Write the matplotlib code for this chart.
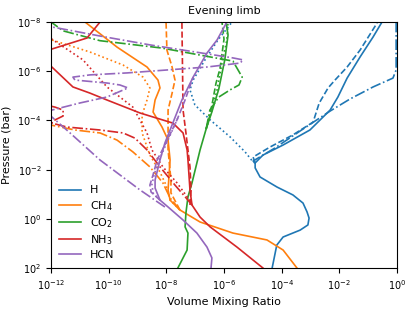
import numpy as np
import matplotlib
matplotlib.use("Agg")
import matplotlib.pyplot as plt

# ---- data: log10(VMR), log10(P [bar]) ----
species = ["H", "CH$_4$", "CO$_2$", "NH$_3$", "HCN"]
colors = ["#1f77b4", "#ff7f0e", "#2ca02c", "#d62728", "#9467bd"]

# H
H_solid_x = [-4.33, -4.17, -3.95, -3.36, -3.09, -3.05, -3.12, -3.26, -3.61, -4.16, -4.75, -4.92, -4.92, -4.65, -3.95, -3.02, -2.32, -2.05, -1.73, -1.28, -0.83, -0.52]
H_solid_p = [2.0, 1.07, 0.74, 0.46, 0.25, -0.03, -0.28, -0.64, -0.97, -1.29, -1.70, -2.07, -2.27, -2.59, -3.0, -3.61, -4.42, -4.95, -5.72, -6.58, -7.39, -8.0]
H_dash_x = [-4.92, -4.99, -4.40, -3.61, -2.91, -2.70, -2.39, -2.15, -1.73, -1.28, -0.69]
H_dash_p = [-2.27, -2.51, -2.92, -3.41, -3.93, -4.70, -5.32, -5.64, -6.17, -6.86, -7.96]
H_dashdot_x = [-4.92, -4.99, -4.23, -3.36, -2.32, -1.63, -0.83, -0.14, -0.03, -0.03]
H_dashdot_p = [-2.27, -2.35, -2.88, -3.57, -4.38, -4.87, -5.36, -5.72, -6.05, -8.0]
H_dot_x = [-4.92, -4.99, -5.27, -5.79, -6.48, -7.01, -7.18, -7.07, -6.66, -6.21, -5.72]
H_dot_p = [-2.27, -2.31, -2.72, -3.33, -4.02, -4.63, -5.24, -5.64, -6.46, -7.27, -8.0]

# CH4
CH4_solid_x = [-3.47, -3.95, -4.51, -5.69, -6.83, -7.53, -7.87, -7.94, -7.87, -7.94, -8.15, -8.46, -8.39, -8.22, -8.29, -8.67, -9.71, -10.82]
CH4_solid_p = [2.0, 1.27, 0.86, 0.58, 0.13, -0.36, -0.76, -1.17, -2.39, -3.20, -3.73, -4.34, -4.83, -5.32, -5.64, -6.17, -6.98, -8.0]
CH4_dash_x = [-7.53, -7.84, -7.84, -7.94, -7.94, -7.80, -7.70, -7.80, -7.98, -8.01]
CH4_dash_p = [-0.36, -1.05, -1.58, -2.80, -4.42, -5.11, -5.64, -6.17, -6.86, -8.0]
CH4_dashdot_x = [-7.53, -7.87, -8.12, -8.57, -9.16, -9.71, -10.30, -11.17, -12.0, -12.5]
CH4_dashdot_p = [-0.36, -0.85, -1.46, -2.11, -2.72, -3.20, -3.49, -3.61, -3.81, -3.90]
CH4_dot_x = [-7.53, -7.87, -8.01, -8.22, -8.57, -8.84, -8.84, -8.67, -8.57, -8.81, -9.50, -10.65, -11.97, -12.5]
CH4_dot_p = [-0.36, -0.76, -1.37, -1.90, -2.59, -3.49, -4.22, -4.83, -5.32, -5.76, -6.25, -6.78, -7.27, -7.45]

# CO2
CO2_solid_x = [-7.60, -7.28, -7.25, -7.35, -7.32, -7.25, -7.11, -6.83, -6.62, -6.42, -6.18, -5.97, -5.86, -5.93]
CO2_solid_p = [2.0, 1.27, 0.58, 0.33, -0.24, -0.89, -1.46, -2.80, -3.65, -4.35, -5.28, -6.48, -7.47, -8.0]
CO2_dash_x = [-6.62, -6.49, -6.39, -6.28, -6.14, -6.00, -6.07]
CO2_dash_p = [-3.65, -4.20, -4.80, -5.50, -6.10, -7.30, -8.0]
CO2_dashdot_x = [-6.62, -6.49, -6.18, -5.79, -5.48, -5.37, -5.69, -8.15, -10.30, -11.58, -12.0]
CO2_dashdot_p = [-3.65, -4.42, -4.95, -5.24, -5.44, -5.76, -6.41, -6.94, -7.24, -7.64, -8.0]
CO2_dot_x = [-6.62, -6.42, -6.24, -6.14, -6.04, -5.90, -5.86]
CO2_dot_p = [-3.65, -4.42, -5.24, -5.90, -6.50, -7.27, -8.0]

# NH3
NH3_solid_x = [-4.65, -5.55, -6.48, -6.83, -7.11, -7.18, -7.25, -7.28, -7.42, -7.77, -8.91, -10.06, -10.65, -11.24, -11.97, -12.3, -12.3, -11.51, -10.75, -10.30]
NH3_solid_p = [2.0, 1.15, 0.33, -0.07, -0.56, -1.17, -2.39, -2.80, -3.49, -3.89, -4.30, -4.83, -5.11, -5.36, -6.17, -6.46, -6.78, -7.07, -7.35, -8.0]
NH3_dash_x = [-7.18, -7.14, -7.18, -7.32, -7.42, -7.46]
NH3_dash_p = [-0.56, -1.17, -2.11, -3.49, -4.42, -8.0]
NH3_dashdot_x = [-7.11, -7.25, -7.70, -8.22, -8.67, -9.09, -9.50, -10.30, -11.45, -11.97, -11.86, -11.58, -11.58, -11.86, -12.3]
NH3_dashdot_p = [-0.56, -0.76, -1.37, -2.11, -2.80, -3.28, -3.49, -3.61, -3.73, -3.89, -4.02, -4.18, -4.42, -4.54, -4.66]
NH3_dot_x = [-7.11, -7.25, -7.63, -8.12, -8.50, -8.67, -9.16, -10.06, -10.89, -12.03, -12.5]
NH3_dot_p = [-0.56, -0.85, -1.46, -2.11, -2.80, -3.49, -4.54, -5.36, -6.46, -7.35, -7.55]

# HCN
HCN_solid_x = [-6.45, -6.42, -6.59, -6.94, -7.42, -7.94, -8.22, -8.39, -8.39, -8.22, -8.05, -7.87, -7.46, -7.07, -6.59, -6.24, -5.90]
HCN_solid_p = [2.0, 1.59, 1.15, 0.58, 0.05, -0.48, -0.76, -1.25, -1.58, -2.39, -3.08, -3.61, -4.83, -5.76, -6.74, -7.27, -8.0]
HCN_dash_x = [-8.22, -8.53, -8.57, -8.46, -8.32, -8.05, -7.63, -7.35, -7.07]
HCN_dash_p = [-0.76, -1.09, -1.37, -1.79, -2.39, -3.0, -4.02, -4.83, -5.76]
HCN_dashdot_x = [-8.05, -8.91, -10.30, -11.34, -11.97, -12.3, -12.3, -11.97, -10.99, -10.06, -9.33, -9.61, -10.06, -11.17, -11.24, -10.65, -9.36, -6.59, -5.44, -5.34, -5.69, -8.57, -10.30, -11.97, -12.4]
HCN_dashdot_p = [-0.48, -1.17, -2.39, -3.49, -4.14, -4.28, -4.38, -4.42, -4.71, -4.95, -5.32, -5.44, -5.52, -5.64, -5.76, -5.85, -5.93, -6.17, -6.33, -6.46, -6.54, -7.07, -7.43, -7.80, -7.95]
HCN_dot_x = [-8.22, -8.46, -8.50, -8.42, -8.25, -8.00, -7.60]
HCN_dot_p = [-0.76, -1.05, -1.40, -1.80, -2.39, -3.05, -4.10]

styles = ["-", "--", "-.", ":"]
data = [
    [(H_solid_x, H_solid_p), (H_dash_x, H_dash_p), (H_dashdot_x, H_dashdot_p), (H_dot_x, H_dot_p)],
    [(CH4_solid_x, CH4_solid_p), (CH4_dash_x, CH4_dash_p), (CH4_dashdot_x, CH4_dashdot_p), (CH4_dot_x, CH4_dot_p)],
    [(CO2_solid_x, CO2_solid_p), (CO2_dash_x, CO2_dash_p), (CO2_dashdot_x, CO2_dashdot_p), (CO2_dot_x, CO2_dot_p)],
    [(NH3_solid_x, NH3_solid_p), (NH3_dash_x, NH3_dash_p), (NH3_dashdot_x, NH3_dashdot_p), (NH3_dot_x, NH3_dot_p)],
    [(HCN_solid_x, HCN_solid_p), (HCN_dash_x, HCN_dash_p), (HCN_dashdot_x, HCN_dashdot_p), (HCN_dot_x, HCN_dot_p)],
]

fig = plt.figure(figsize=(4.15, 3.11), dpi=100)
ax = fig.add_axes([51/415, 1-268/311, 346/415, 246/311])

for name, col, lines in zip(species, colors, data):
    for k, (lx, lp) in enumerate(lines):
        ax.plot(10**np.array(lx), 10**np.array(lp), color=col, ls=styles[k], lw=1.2,
                label=name if k == 0 else None)

ax.set_xscale("log")
ax.set_yscale("log")
ax.set_xlim(1e-12, 1)
ax.set_ylim(1e2, 1e-8)
ax.set_xticks([10.0**e for e in range(-12, 1, 2)])
ax.set_yticks([10.0**e for e in range(-8, 3, 2)])
ax.xaxis.set_minor_locator(matplotlib.ticker.NullLocator())
ax.yaxis.set_minor_locator(matplotlib.ticker.NullLocator())
ax.tick_params(labelsize=7)
ax.set_xlabel("Volume Mixing Ratio", fontsize=8)
ax.set_ylabel("Pressure (bar)", fontsize=8)
ax.set_title("Evening limb", fontsize=8)
ax.legend(loc="lower left", frameon=False, fontsize=8, labelspacing=0.3, borderaxespad=0.3)

fig.savefig("out.png", dpi=100)
